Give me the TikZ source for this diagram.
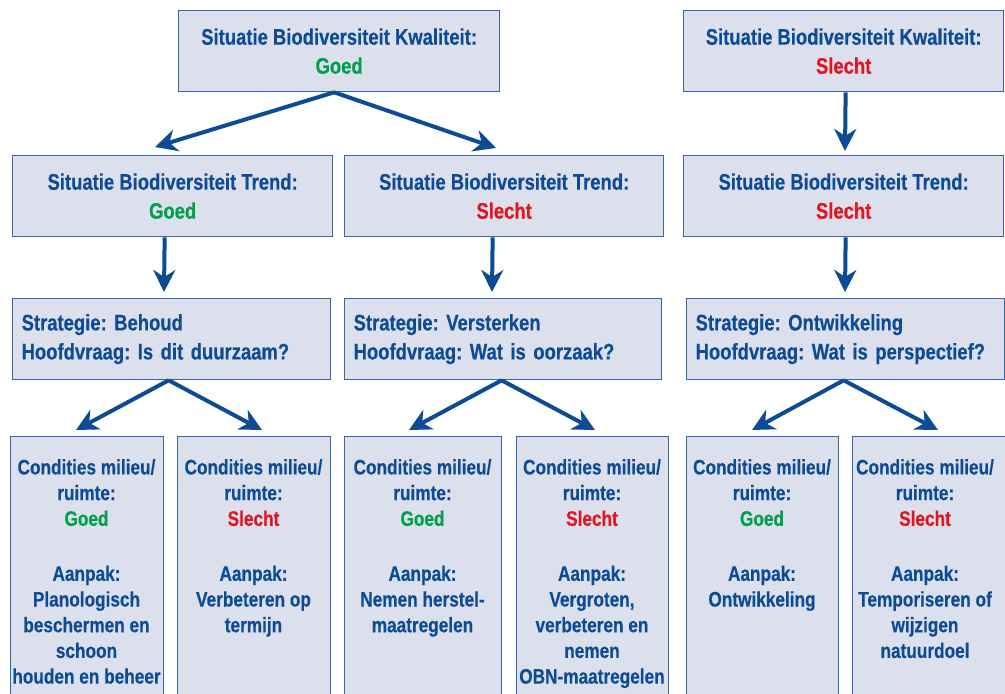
\documentclass[tikz,border=0pt]{standalone}
\usepackage{fontspec}
\newfontfamily\nfont{Liberation Sans}[FakeStretch=0.82, BoldFeatures={FakeBold=0.4}]
\usetikzlibrary{arrows.meta,calc}
\definecolor{tblue}{HTML}{0D4C94}
\definecolor{bfill}{HTML}{DCE0ED}
\definecolor{bline}{HTML}{3566A6}
\definecolor{tgreen}{HTML}{00A04B}
\definecolor{tred}{HTML}{E2141F}
\newcommand{\goedtxt}{\textcolor{tgreen}{Goed}}
\newcommand{\slechttxt}{\textcolor{tred}{Slecht}}
\frenchspacing
\begin{document}
\begin{tikzpicture}[x=1pt,y=-1pt,
  boxst/.style={draw=bline, fill=bfill, line width=1.3pt, inner sep=0pt, anchor=north west},
  topbox/.style={boxst, align=center, text=tblue, font=\nfont\bfseries\frenchspacing\fontsize{22.5}{29}\selectfont},
  stratbox/.style={boxst, align=left, text=tblue, font=\nfont\bfseries\frenchspacing\fontsize{22.5}{29}\selectfont},
  lowbox/.style={boxst, minimum height=280pt},
  lowtext/.style={anchor=north, inner sep=0pt, align=center, text=tblue, font=\nfont\bfseries\frenchspacing\fontsize{21}{25.7}\selectfont},
  arr/.style={draw=tblue, line width=4pt, -{Stealth[length=22pt,width=22pt,inset=7pt]}}
]
\useasboundingbox (0,0) rectangle (1005,694);
\clip (0,0) rectangle (1005,694);

% top level
\node[topbox, minimum width=321pt, minimum height=81pt] (k1) at (178,10) {Situatie Biodiversiteit Kwaliteit:\\\goedtxt};
\node[topbox, minimum width=320pt, minimum height=81pt] (k2) at (683,10) {Situatie Biodiversiteit Kwaliteit:\\\slechttxt};

% trend level
\node[topbox, minimum width=320pt, minimum height=81pt] (t1) at (12,155) {Situatie Biodiversiteit Trend:\\\goedtxt};
\node[topbox, minimum width=319pt, minimum height=81pt] (t2) at (344,155) {Situatie Biodiversiteit Trend:\\\slechttxt};
\node[topbox, minimum width=320pt, minimum height=81pt] (t3) at (683,155) {Situatie Biodiversiteit Trend:\\\slechttxt};

% strategy level
\node[stratbox, minimum width=318pt, minimum height=81pt, text width=300pt] (s1) at (12,298) {Strategie: Behoud\\Hoofdvraag: Is dit duurzaam?};
\node[stratbox, minimum width=317pt, minimum height=81pt, text width=299pt] (s2) at (344,298) {Strategie: Versterken\\Hoofdvraag: Wat is oorzaak?};
\node[stratbox, minimum width=318pt, minimum height=81pt, text width=300pt] (s3) at (686,298) {Strategie: Ontwikkeling\\Hoofdvraag: Wat is perspectief?};

% bottom level boxes
\node[lowbox, minimum width=153pt] (b1) at (10,436) {};
\node[lowbox, minimum width=153pt] (b2) at (177,436) {};
\node[lowbox, minimum width=157pt] (b3) at (344,436) {};
\node[lowbox, minimum width=152pt] (b4) at (516,436) {};
\node[lowbox, minimum width=152pt] (b5) at (686,436) {};
\node[lowbox, minimum width=170pt] (b6) at (852,436) {};

\node[lowtext] (b1t) at (86.5,459) {Condities milieu/\\ruimte:\\\goedtxt\\[29.3pt]Aanpak:\\Planologisch\\beschermen en\\schoon\\houden en beheer};
\node[lowtext] (b2t) at (253.5,459) {Condities milieu/\\ruimte:\\\slechttxt\\[29.3pt]Aanpak:\\Verbeteren op\\termijn};
\node[lowtext] (b3t) at (422.5,459) {Condities milieu/\\ruimte:\\\goedtxt\\[29.3pt]Aanpak:\\Nemen herstel-\\maatregelen};
\node[lowtext] (b4t) at (592,459) {Condities milieu/\\ruimte:\\\slechttxt\\[29.3pt]Aanpak:\\Vergroten,\\verbeteren en\\nemen\\OBN-maatregelen};
\node[lowtext] (b5t) at (762,459) {Condities milieu/\\ruimte:\\\goedtxt\\[29.3pt]Aanpak:\\Ontwikkeling};
\node[lowtext] (b6t) at (925,459) {Condities milieu/\\ruimte:\\\slechttxt\\[29.3pt]Aanpak:\\Temporiseren of\\wijzigen\\natuurdoel};

% arrow tips
\coordinate (t1tip) at (155,147);
\coordinate (t2tip) at (496,148);
\coordinate (t3tip) at (845,151);
\coordinate (s1tip) at (164,292);
\coordinate (s2tip) at (492,292);
\coordinate (s3tip) at (845,292);
\coordinate (b1tip) at (76,430);
\coordinate (b2tip) at (262,430);
\coordinate (b3tip) at (409,430);
\coordinate (b4tip) at (595,430);
\coordinate (b5tip) at (752,430);
\coordinate (b6tip) at (938,430);

% arrows
\draw[arr] ([xshift=-5pt]k1.south) -- (t1tip);
\draw[arr] ([xshift=-5pt]k1.south) -- (t2tip);
\draw[arr] ([xshift=2pt]k2.south) -- (t3tip);
\draw[arr] ([xshift=-8pt]t1.south) -- (s1tip);
\draw[arr] ([xshift=-11.5pt]t2.south) -- (s2tip);
\draw[arr] ([xshift=2pt]t3.south) -- (s3tip);
\draw[arr] ([xshift=-3pt]s1.south) -- (b1tip);
\draw[arr] ([xshift=-3pt]s1.south) -- (b2tip);
\draw[arr] ([xshift=-1.5pt]s2.south) -- (b3tip);
\draw[arr] ([xshift=-1.5pt]s2.south) -- (b4tip);
\draw[arr] ([xshift=-2pt]s3.south) -- (b5tip);
\draw[arr] ([xshift=-2pt]s3.south) -- (b6tip);
\end{tikzpicture}
\end{document}
